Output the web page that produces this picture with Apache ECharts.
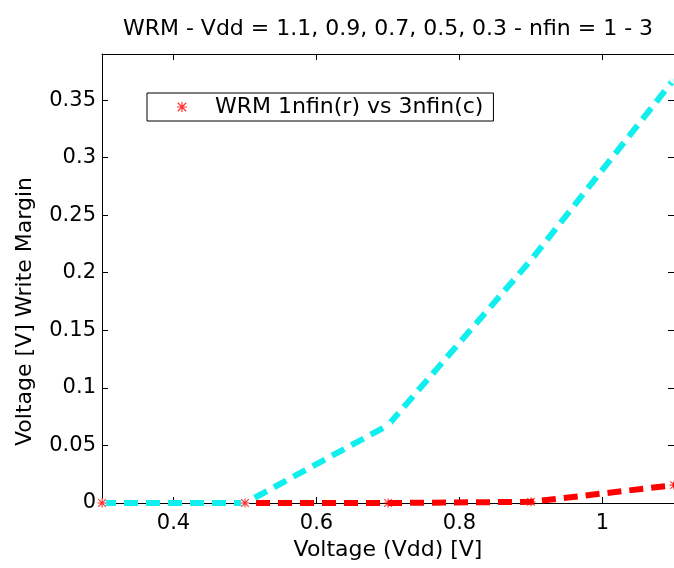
<!DOCTYPE html>
<html><head><meta charset="utf-8">
<script src="https://cdn.jsdelivr.net/npm/echarts@6/dist/echarts.min.js"></script>
<style>html,body{margin:0;padding:0;background:#fff;overflow:hidden}#c{width:674px;height:568px}</style>
</head><body><div id="c"></div>
<script>
const vdd = [0.3, 0.5, 0.7, 0.9, 1.1];
const wrm1nfin = [0, 0, 0, 0.001, 0.0155];
const wrm3nfin = [0, 0, 0.0675, 0.211, 0.368];
const xTicks = [0.4, 0.6, 0.8, 1.0];
const yTicks = [0, 0.05, 0.1, 0.15, 0.2, 0.25, 0.3, 0.35];
const titleText = 'WRM - Vdd = 1.1, 0.9, 0.7, 0.5, 0.3 - nfin = 1 - 3';
const legendName = 'WRM 1nfin(r) vs 3nfin(c)';
const xName = 'Voltage (Vdd) [V]';
const yName = 'Voltage [V] Write Margin';

const pts = ys => vdd.map((x, i) => [x, ys[i]]);
const FONT = 'DejaVu Sans';
const RED = '#ff0000';
const CYAN = '#10eeee';
const star = 'path://M4.4,0h1.2v10h-1.2z M0,4.4h10v1.2h-10z M1.2,0.35L9.65,8.8L8.8,9.65L0.35,1.2z M8.8,0.35L9.65,1.2L1.2,9.65L0.35,8.8z';
const fmt = v => String(+(+v).toFixed(2));
const line = {onZero: false, lineStyle: {color: '#000', width: 1}};
const tickX = {inside: true, length: 6, lineStyle: {color: '#000'}, customValues: xTicks};
const tickY = {inside: true, length: 6, lineStyle: {color: '#000'}, customValues: yTicks};

const chart = echarts.init(document.getElementById('c'), null, {renderer: 'canvas'});
chart.setOption({
  animation: false,
  backgroundColor: '#fff',
  title: {
    text: titleText, left: 388, top: 18, textAlign: 'center', padding: 0,
    textStyle: {fontFamily: FONT, fontSize: 22, fontWeight: 'normal', color: '#000'}
  },
  legend: {
    data: [legendName], left: 147, top: 93, padding: [3, 10, 3, 30],
    itemWidth: 10, itemHeight: 10, selectedMode: false,
    backgroundColor: '#fff', borderColor: '#000', borderWidth: 1, borderRadius: 0,
    textStyle: {fontFamily: FONT, fontSize: 22, color: '#000', padding: [0, 0, 0, 23]}
  },
  grid: {left: 102, right: 0, top: 54, bottom: 65, containLabel: false},
  xAxis: [{
    type: 'value', position: 'bottom', min: 0.3, max: 1.1,
    name: xName, nameLocation: 'middle', nameGap: 35,
    nameTextStyle: {fontFamily: FONT, fontSize: 22, color: '#000'},
    axisLine: line, axisTick: tickX, splitLine: {show: false},
    axisLabel: {customValues: xTicks, formatter: fmt, margin: 10, fontFamily: FONT, fontSize: 21, color: '#000'}
  }, {
    type: 'value', position: 'top', min: 0.3, max: 1.1,
    axisLine: line, axisTick: tickX, splitLine: {show: false}, axisLabel: {show: false}
  }],
  yAxis: [{
    type: 'value', position: 'left', min: 0, max: 0.39,
    name: yName, nameLocation: 'middle', nameGap: 66,
    nameTextStyle: {fontFamily: FONT, fontSize: 22, color: '#000', padding: [0, 66, 0, 0]},
    axisLine: line, axisTick: tickY, splitLine: {show: false},
    axisLabel: {customValues: yTicks, formatter: fmt, margin: 6, fontFamily: FONT, fontSize: 21, color: '#000'}
  }, {
    type: 'value', position: 'right', min: 0, max: 0.39,
    axisLine: line, axisTick: tickY, splitLine: {show: false}, axisLabel: {show: false}
  }],
  series: [
    {
      name: legendName, type: 'scatter', data: pts(wrm1nfin), symbol: star, symbolSize: 9,
      itemStyle: {color: RED}, z: 5
    },
    {
      name: '3nfin markers', type: 'scatter', data: pts(wrm3nfin), symbol: 'emptyCircle', symbolSize: 7,
      itemStyle: {color: '#ffffff', borderColor: '#7ff0f0', borderWidth: 1}, z: 4
    },
    {
      name: '1nfin line', type: 'line', data: pts(wrm1nfin), showSymbol: false, clip: false,
      lineStyle: {color: RED, width: 6, type: [14, 8]}, z: 2
    },
    {
      name: '3nfin line', type: 'line', data: pts(wrm3nfin), showSymbol: false, clip: false,
      lineStyle: {color: CYAN, width: 6, type: [14, 8]}, z: 3
    }
  ]
});
</script></body></html>
